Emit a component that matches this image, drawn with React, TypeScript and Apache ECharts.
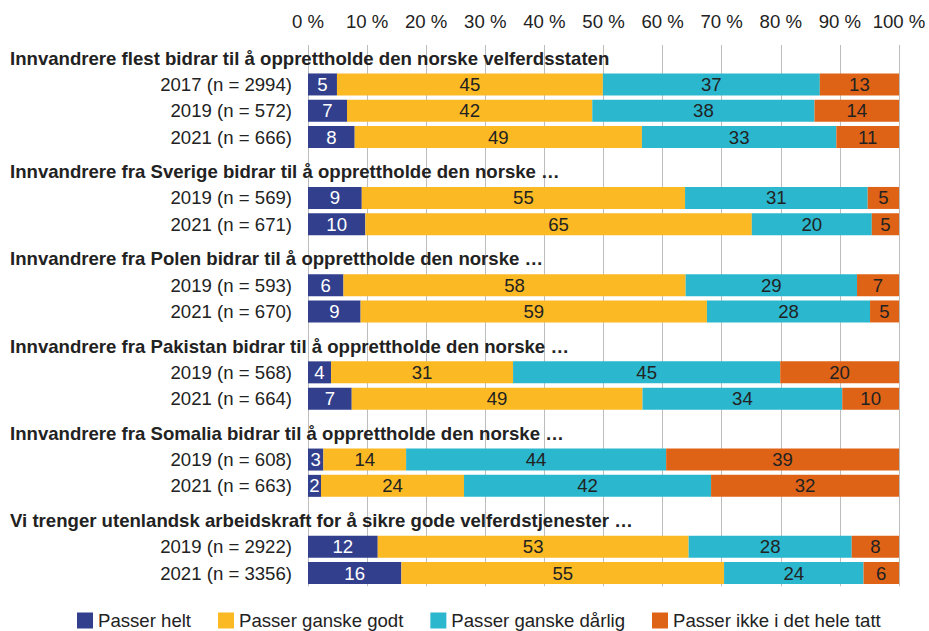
import React, { useEffect, useRef } from "react";
import * as echarts from "echarts";

const groupTitles = [
  "Innvandrere flest bidrar til å opprettholde den norske velferdsstaten",
  "Innvandrere fra Sverige bidrar til å opprettholde den norske …",
  "Innvandrere fra Polen bidrar til å opprettholde den norske …",
  "Innvandrere fra Pakistan bidrar til å opprettholde den norske …",
  "Innvandrere fra Somalia bidrar til å opprettholde den norske …",
  "Vi trenger utenlandsk arbeidskraft for å sikre gode velferdstjenester …",
];

const rowLabels = [
  ["2017 (n = 2994)", "2019 (n = 572)", "2021 (n = 666)"],
  ["2019 (n = 569)", "2021 (n = 671)"],
  ["2019 (n = 593)", "2021 (n = 670)"],
  ["2019 (n = 568)", "2021 (n = 664)"],
  ["2019 (n = 608)", "2021 (n = 663)"],
  ["2019 (n = 2922)", "2021 (n = 3356)"],
];

const seriesNames = [
  "Passer helt",
  "Passer ganske godt",
  "Passer ganske dårlig",
  "Passer ikke i det hele tatt",
];

const passerHelt = [[4.9, 6.6, 7.9], [9.1, 9.7], [6.0, 8.9], [3.9, 7.4], [2.6, 2.2], [11.8, 15.8]];
const passerGanskeGodt = [[45.0, 41.5, 48.6], [54.7, 65.4], [57.9, 58.6], [30.8, 49.2], [14.0, 24.2], [52.6, 54.6]];
const passerGanskeDarlig = [[36.7, 37.6, 32.9], [30.9, 20.3], [29.0, 27.6], [45.2, 33.8], [44.0, 41.8], [27.6, 23.6]];
const passerIkke = [[13.4, 14.3, 10.6], [5.3, 4.6], [7.1, 4.9], [20.1, 9.6], [39.4, 31.8], [8.0, 6.0]];

const xTicks = [0, 10, 20, 30, 40, 50, 60, 70, 80, 90, 100];

const colors = ["#323F8C", "#FBB924", "#2BB7CE", "#DF6316"];
const labelColors = ["#ffffff", "#222222", "#222222", "#222222"];

const FONT = "'Liberation Sans', Arial, sans-serif";
const FS = 18.6;

export default function App() {
  const ref = useRef<HTMLDivElement>(null);

  useEffect(() => {
    document.body.style.margin = "0";
    if (!ref.current) return;
    const chart = echarts.init(ref.current, null, { renderer: "svg" });

    const left = 308;
    const right = 30;
    const pitch = 26.3;
    const gap = 8.3;
    const top0 = 45;

    const seriesData = [passerHelt, passerGanskeGodt, passerGanskeDarlig, passerIkke];

    const grids: any[] = [];
    const xAxes: any[] = [];
    const yAxes: any[] = [];
    const series: any[] = [];

    let cursor = top0;
    const groupLayout = rowLabels.map((rows) => {
      const h = (rows.length + 1) * pitch;
      const t = cursor;
      cursor += h + gap;
      return { top: t, height: h };
    });
    const totalBottom = cursor - gap;

    grids.push({ left, right, top: top0, height: totalBottom - top0 });
    xAxes.push({
      type: "value",
      gridIndex: 0,
      position: "top",
      min: 0,
      max: 100,
      interval: 10,
      axisLine: { show: false },
      axisTick: { show: false },
      splitLine: { show: true, lineStyle: { color: "#BDBDBD", width: 1 } },
      axisLabel: {
        formatter: (v: number) => (xTicks.includes(v) ? `${v} %` : ""),
        fontSize: FS,
        fontFamily: FONT,
        color: "#222",
        margin: 14,
      },
    });
    yAxes.push({ type: "value", gridIndex: 0, show: false });

    rowLabels.forEach((rows, g) => {
      const gi = g + 1;
      grids.push({ left, right, top: groupLayout[g].top, height: groupLayout[g].height });
      xAxes.push({ type: "value", gridIndex: gi, min: 0, max: 100, show: false });
      const dataAxisIndex = yAxes.length;
      yAxes.push({
        type: "category",
        gridIndex: gi,
        inverse: true,
        data: ["", ...rows],
        axisLine: { show: false },
        axisTick: { show: false },
        axisLabel: { fontSize: FS, fontFamily: FONT, color: "#222", margin: 16 },
      });
      yAxes.push({
        type: "category",
        gridIndex: gi,
        inverse: true,
        position: "left",
        data: [groupTitles[g], ...rows.map(() => "")],
        axisLine: { show: false },
        axisTick: { show: false },
        axisLabel: {
          fontSize: FS,
          fontWeight: "bold",
          fontFamily: FONT,
          color: "#222",
          align: "left",
          margin: left - 10,
        },
      });
      seriesData.forEach((arr, k) => {
        series.push({
          type: "bar",
          name: seriesNames[k],
          stack: `g${g}`,
          xAxisIndex: gi,
          yAxisIndex: dataAxisIndex,
          barWidth: 22,
          itemStyle: { color: colors[k] },
          label: {
            show: true,
            position: "inside",
            fontSize: FS,
            fontFamily: FONT,
            color: labelColors[k],
            formatter: (p: any) => `${Math.round(p.value)}`,
          },
          data: ["-", ...arr[g]],
        });
      });
    });

    chart.setOption({
      animation: false,
      backgroundColor: "#ffffff",
      color: colors,
      grid: grids,
      xAxis: xAxes,
      yAxis: yAxes,
      series,
      legend: {
        data: seriesNames,
        top: 606,
        left: 72,
        itemWidth: 16,
        itemHeight: 16,
        itemGap: 27,
        icon: "rect",
        textStyle: { fontSize: FS, fontFamily: FONT, color: "#222" },
      },
    });

    return () => chart.dispose();
  }, []);

  return <div ref={ref} style={{ width: 929, height: 631 }} />;
}
